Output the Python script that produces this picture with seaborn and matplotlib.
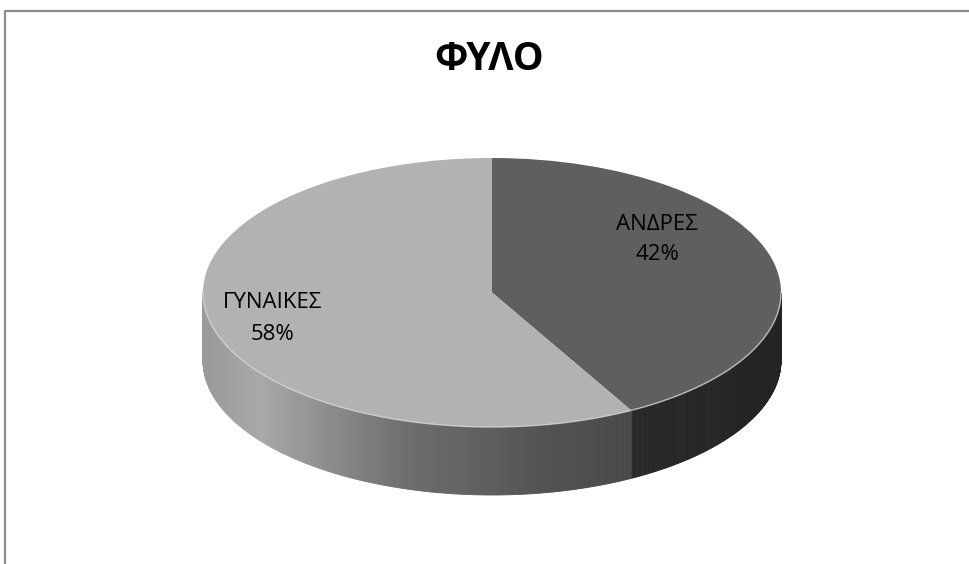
import numpy as np
import matplotlib
matplotlib.use("Agg")
import matplotlib.pyplot as plt
from matplotlib.patches import Polygon
from matplotlib.lines import Line2D
import seaborn as sns

# ---- data ----
categories = ["ΑΝΔΡΕΣ", "ΓΥΝΑΙΚΕΣ"]
values = [42, 58]
title = "ΦΥΛΟ"
top_colors = ["#5f5f5f", "#b2b2b2"]

sns.set_theme(style="white")
plt.rcParams["font.family"] = ["Open Sans", "DejaVu Sans"]

W, H = 970, 564
fig = plt.figure(figsize=(W / 100, H / 100), dpi=100)
fig.patch.set_facecolor("white")

# pixel geometry of the 3D pie
cx, cy, rx, ry, depth_px = 492.0, 292.5, 289.0, 134.5, 68.0
ax = fig.add_axes([0, 0, 1, 1])
depth = depth_px / ry

# top surface via pie
wedges, _ = ax.pie(values, startangle=90, counterclock=False,
                   colors=top_colors, radius=1.0, center=(0, 0),
                   wedgeprops=dict(linewidth=0, antialiased=True))
for w in wedges:
    w.set_zorder(2)
ax.set_aspect("auto")
ax.set_xlim(-cx / rx, (W - cx) / rx)
ax.set_ylim((cy - H) / ry, cy / ry)
ax.axis("off")


def side_shade(x, idx):
    if idx == 0:  # men's side
        return np.interp(x, [0.4, 1.0], [0.16, 0.14])
    return np.interp(x, [-1.0, -0.8, -0.3, 0.2, 0.6],
                     [0.60, 0.66, 0.43, 0.32, 0.27])


# side walls from slice angles
total = sum(values)
start = 90.0
for i, v in enumerate(values):
    sweep = 360.0 * v / total
    a0, a1 = start - sweep, start
    start = a0
    th = np.linspace(a0, a1, 400)
    thr = np.deg2rad(th)
    vis = np.sin(thr) < 0
    t = thr[vis]
    for k in range(len(t) - 1):
        xa, xb = np.cos(t[k]), np.cos(t[k + 1])
        ya, yb = np.sin(t[k]), np.sin(t[k + 1])
        g = side_shade(0.5 * (xa + xb), i)
        c = (g, g, g)
        ax.add_patch(Polygon([(xa, ya), (xb, yb), (xb, yb - depth), (xa, ya - depth)],
                             closed=True, facecolor=c, edgecolor=c, linewidth=0.6,
                             zorder=1))

# subtle highlight along the front rim of the top
tt = np.deg2rad(np.linspace(180, 360, 300))
ax.plot(np.cos(tt), np.sin(tt), color="#d8d8d8", lw=1.0, zorder=3, alpha=0.8)

# labels
def px2d(px, py):
    return (px - cx) / rx, (cy - py) / ry

label_px = [(657, 224, 255), (273, 303, 335)]
for (lx, ly1, ly2), name, v in zip(label_px, categories, values):
    x1, y1 = px2d(lx, ly1)
    _, y2 = px2d(lx, ly2)
    pct = round(100 * v / total)
    ax.text(x1, y1, name, ha="center", va="center", fontsize=16, color="black", zorder=5)
    ax.text(x1, y2, f"{pct}%", ha="center", va="center", fontsize=16, color="black", zorder=5)

fig.text(489 / W, 1 - 60 / H, title, ha="center", va="center",
         fontsize=28, fontweight="bold", color="black")

# chart frame (top and left edges visible)
fx = 5.5 / W
fy = 1 - 10.5 / H
fig.add_artist(Line2D([fx, fx, 1.0], [0.0, fy, fy], transform=fig.transFigure,
                      color="#8c8c8c", lw=1.6))

fig.savefig("out.png", dpi=100, facecolor="white")
